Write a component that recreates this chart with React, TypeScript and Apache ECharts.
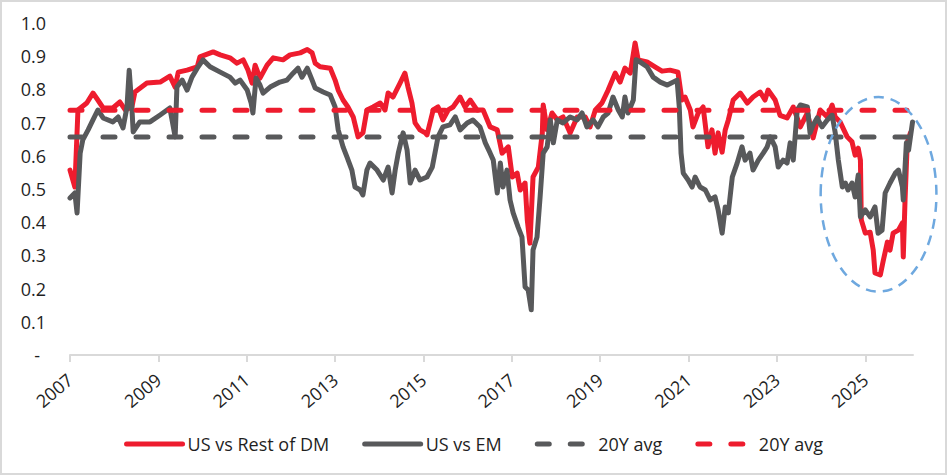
import { useEffect, useRef } from "react";
import * as echarts from "echarts";

// decimal years and correlation values
const dmYears = [
  2007.0, 2007.11, 2007.18, 2007.38, 2007.52, 2007.63, 2007.75, 2007.97, 2008.13, 2008.25,
  2008.4, 2008.47, 2008.74, 2009.04, 2009.26, 2009.38, 2009.45, 2009.65, 2009.88, 2009.94,
  2010.24, 2010.4, 2010.62, 2010.78, 2010.92, 2011.03, 2011.12, 2011.19, 2011.3, 2011.46,
  2011.6, 2011.82, 2011.98, 2012.21, 2012.37, 2012.48, 2012.55, 2012.66, 2012.89, 2013.0,
  2013.07, 2013.18, 2013.29, 2013.41, 2013.52, 2013.63, 2013.72, 2013.86, 2014.02, 2014.13,
  2014.2, 2014.31, 2014.47, 2014.58, 2014.65, 2014.74, 2014.81, 2014.92, 2015.04, 2015.08,
  2015.22, 2015.33, 2015.44, 2015.56, 2015.67, 2015.83, 2015.94, 2016.06, 2016.21, 2016.35,
  2016.51, 2016.67, 2016.78, 2016.92, 2017.01, 2017.12, 2017.19, 2017.3, 2017.35, 2017.41,
  2017.48, 2017.6, 2017.69, 2017.71, 2017.8, 2017.91, 2018.03, 2018.16, 2018.32, 2018.48,
  2018.66, 2018.77, 2018.89, 2019.04, 2019.18, 2019.34, 2019.45, 2019.56, 2019.68, 2019.79,
  2019.86, 2020.06, 2020.24, 2020.4, 2020.58, 2020.76, 2020.85, 2020.92, 2021.04, 2021.1,
  2021.22, 2021.33, 2021.44, 2021.53, 2021.6, 2021.67, 2021.76, 2021.83, 2021.9, 2022.01,
  2022.17, 2022.33, 2022.46, 2022.62, 2022.73, 2022.8, 2022.96, 2023.07, 2023.23, 2023.37,
  2023.53, 2023.69, 2023.82, 2023.98, 2024.14, 2024.25, 2024.32, 2024.43, 2024.59, 2024.7,
  2024.77, 2024.84, 2024.89, 2024.91, 2025.0, 2025.11, 2025.18, 2025.22, 2025.34, 2025.41,
  2025.5, 2025.56, 2025.63, 2025.75, 2025.84, 2025.86, 2025.9, 2025.95, 2026.02,
];
const dmValues = [
  0.557, 0.506, 0.738, 0.759, 0.789, 0.768, 0.744, 0.744, 0.762, 0.738,
  0.747, 0.792, 0.819, 0.822, 0.84, 0.807, 0.852, 0.858, 0.868, 0.898,
  0.913, 0.904, 0.895, 0.879, 0.889, 0.858, 0.819, 0.873, 0.834, 0.873,
  0.895, 0.889, 0.904, 0.91, 0.92, 0.91, 0.879, 0.868, 0.864, 0.828,
  0.798, 0.768, 0.747, 0.717, 0.657, 0.669, 0.738, 0.747, 0.759, 0.738,
  0.789, 0.777, 0.819, 0.849, 0.807, 0.759, 0.699, 0.678, 0.669, 0.663,
  0.738, 0.747, 0.708, 0.738, 0.747, 0.777, 0.747, 0.768, 0.738, 0.738,
  0.687, 0.678, 0.608, 0.627, 0.536, 0.548, 0.497, 0.518, 0.407, 0.337,
  0.536, 0.566, 0.669, 0.753, 0.678, 0.729, 0.708, 0.717, 0.669, 0.717,
  0.717, 0.687, 0.738, 0.759, 0.798, 0.849, 0.822, 0.864, 0.849, 0.94,
  0.889, 0.883, 0.868, 0.855, 0.858, 0.852, 0.768, 0.777, 0.738, 0.687,
  0.729, 0.747, 0.627, 0.678, 0.608, 0.669, 0.611, 0.678, 0.708, 0.768,
  0.789, 0.759, 0.777, 0.792, 0.768, 0.798, 0.768, 0.722, 0.714, 0.747,
  0.687, 0.729, 0.654, 0.738, 0.717, 0.753, 0.717, 0.702, 0.657, 0.642,
  0.602, 0.623, 0.587, 0.407, 0.367, 0.37, 0.316, 0.247, 0.241, 0.286,
  0.34, 0.316, 0.367, 0.376, 0.398, 0.295, 0.467, 0.639, 0.669,
];

const emYears = [
  2007.0, 2007.11, 2007.16, 2007.23, 2007.29, 2007.41, 2007.52, 2007.63, 2007.75, 2007.97,
  2008.09, 2008.2, 2008.29, 2008.34, 2008.4, 2008.43, 2008.58, 2008.81, 2009.04, 2009.26,
  2009.38, 2009.42, 2009.54, 2009.65, 2009.76, 2009.88, 2010.01, 2010.17, 2010.4, 2010.62,
  2010.74, 2010.85, 2011.01, 2011.1, 2011.14, 2011.21, 2011.3, 2011.37, 2011.53, 2011.75,
  2011.91, 2012.05, 2012.16, 2012.25, 2012.37, 2012.48, 2012.55, 2012.73, 2012.89, 2013.0,
  2013.07, 2013.18, 2013.27, 2013.38, 2013.45, 2013.57, 2013.63, 2013.72, 2013.79, 2013.95,
  2014.09, 2014.2, 2014.29, 2014.36, 2014.43, 2014.54, 2014.63, 2014.7, 2014.81, 2014.92,
  2015.08, 2015.2, 2015.26, 2015.33, 2015.44, 2015.6, 2015.72, 2015.83, 2015.99, 2016.12,
  2016.28, 2016.4, 2016.51, 2016.58, 2016.67, 2016.74, 2016.8, 2016.89, 2016.96, 2017.03,
  2017.14, 2017.23, 2017.3, 2017.37, 2017.44, 2017.48, 2017.57, 2017.64, 2017.71, 2017.8,
  2017.87, 2017.94, 2018.03, 2018.16, 2018.32, 2018.48, 2018.59, 2018.7, 2018.84, 2018.95,
  2019.07, 2019.18, 2019.29, 2019.41, 2019.5, 2019.56, 2019.63, 2019.75, 2019.81, 2019.9,
  2020.06, 2020.2, 2020.36, 2020.52, 2020.74, 2020.79, 2020.83, 2020.88, 2020.99, 2021.08,
  2021.15, 2021.26, 2021.38, 2021.49, 2021.6, 2021.67, 2021.76, 2021.83, 2021.9, 2021.99,
  2022.1, 2022.21, 2022.28, 2022.39, 2022.46, 2022.58, 2022.69, 2022.78, 2022.85, 2022.96,
  2023.03, 2023.14, 2023.23, 2023.3, 2023.37, 2023.46, 2023.53, 2023.69, 2023.75, 2023.82,
  2023.91, 2024.02, 2024.14, 2024.25, 2024.32, 2024.39, 2024.48, 2024.55, 2024.61, 2024.7,
  2024.77, 2024.84, 2024.89, 2025.0, 2025.11, 2025.22, 2025.29, 2025.38, 2025.45, 2025.56,
  2025.68, 2025.75, 2025.84, 2025.86, 2025.93, 2025.98, 2026.07,
];
const emValues = [
  0.473, 0.488, 0.428, 0.608, 0.648, 0.678, 0.708, 0.738, 0.714, 0.702,
  0.717, 0.684, 0.747, 0.858, 0.747, 0.672, 0.702, 0.702, 0.723, 0.744,
  0.657, 0.807, 0.828, 0.798, 0.837, 0.864, 0.889, 0.868, 0.852, 0.837,
  0.819, 0.828, 0.798, 0.759, 0.729, 0.834, 0.813, 0.789, 0.807, 0.822,
  0.828, 0.849, 0.864, 0.837, 0.864, 0.828, 0.804, 0.792, 0.783, 0.747,
  0.678, 0.627, 0.596, 0.557, 0.506, 0.497, 0.482, 0.557, 0.578, 0.557,
  0.527, 0.566, 0.488, 0.557, 0.608, 0.669, 0.617, 0.518, 0.557, 0.527,
  0.536, 0.566, 0.608, 0.657, 0.687, 0.693, 0.717, 0.678, 0.699, 0.708,
  0.687, 0.639, 0.608, 0.587, 0.488, 0.578, 0.506, 0.557, 0.467, 0.428,
  0.386, 0.355, 0.205, 0.196, 0.136, 0.316, 0.355, 0.476, 0.608, 0.627,
  0.708, 0.639, 0.708, 0.699, 0.717, 0.708, 0.729, 0.687, 0.708, 0.687,
  0.717, 0.729, 0.777, 0.738, 0.717, 0.777, 0.729, 0.768, 0.889, 0.883,
  0.868, 0.837, 0.822, 0.813, 0.828, 0.747, 0.608, 0.548, 0.527, 0.506,
  0.536, 0.506, 0.497, 0.467, 0.476, 0.437, 0.367, 0.446, 0.428, 0.536,
  0.578, 0.627, 0.587, 0.608, 0.557, 0.587, 0.608, 0.627, 0.657, 0.627,
  0.566, 0.587, 0.578, 0.639, 0.587, 0.738, 0.753, 0.747, 0.669, 0.693,
  0.714, 0.687, 0.708, 0.723, 0.669, 0.587, 0.506, 0.518, 0.497, 0.518,
  0.476, 0.542, 0.416, 0.437, 0.416, 0.446, 0.367, 0.376, 0.488, 0.518,
  0.548, 0.557, 0.506, 0.467, 0.639, 0.617, 0.702,
];

const dmAvg = 0.737;
const emAvg = 0.657;
const avgSpan = [2007.0, 2026.0];
const yearTicks = [2007, 2009, 2011, 2013, 2015, 2017, 2019, 2021, 2023, 2025];

// highlighted region (centre and half-extent in data units)
const circleCentre = [2025.3, 0.484];
const circleHalf = [1.31, 0.293];

const RED = "#ee1c2e";
const GREY = "#58595b";
const FONT = "Open Sans";
const LW = 5;

export default function App() {
  const chartRef = useRef<HTMLDivElement>(null);

  useEffect(() => {
    if (!chartRef.current) return;
    const chart = echarts.init(chartRef.current, null, { renderer: "svg" });

    const lineBase = {
      type: "line",
      symbol: "none",
      showSymbol: false,
    };

    chart.setOption({
      animation: false,
      textStyle: { fontFamily: FONT },
      grid: { left: 70, right: 34, top: 23, bottom: 120 },
      legend: {
        left: "center",
        top: 430,
        itemWidth: 56,
        itemHeight: 14,
        itemGap: 33,
        itemStyle: { opacity: 0 },
        lineStyle: { width: LW, cap: "round" },
        textStyle: { fontFamily: FONT, fontSize: 18, color: "#1f1f1f" },
        data: ["US vs Rest of DM", "US vs EM", "20Y avg EM", "20Y avg DM"],
        formatter: (name: string) => (name.startsWith("20Y avg") ? "20Y avg" : name),
      },
      xAxis: {
        type: "value",
        min: 2007,
        max: 2026.08,
        splitLine: { show: false },
        axisLine: { lineStyle: { color: "#d9d9d9", width: 2 } },
        axisTick: {
          length: 7,
          customValues: yearTicks,
          lineStyle: { color: "#d9d9d9", width: 2 },
        },
        axisLabel: {
          customValues: yearTicks,
          rotate: 40,
          margin: 22,
          fontFamily: FONT,
          fontSize: 18,
          color: "#1f1f1f",
          formatter: (v: number) => String(Math.round(v)),
        },
      },
      yAxis: {
        type: "value",
        min: 0,
        max: 1,
        interval: 0.1,
        splitLine: { show: false },
        axisLine: { show: false },
        axisTick: { show: false },
        axisLabel: {
          margin: 24,
          fontFamily: FONT,
          fontSize: 18,
          color: "#1f1f1f",
          formatter: (v: number) => (Math.abs(v) < 1e-9 ? "{dash|-}" : v.toFixed(1)),
          rich: { dash: { fontFamily: FONT, fontSize: 18, color: "#1f1f1f", padding: [0, 6, 0, 0] } },
        },
      },
      series: [
        {
          ...lineBase,
          name: "US vs Rest of DM",
          data: dmYears.map((x, i) => [x, dmValues[i]]),
          lineStyle: { color: RED, width: LW, cap: "round", join: "round" },
          itemStyle: { color: RED },
        },
        {
          ...lineBase,
          name: "US vs EM",
          data: emYears.map((x, i) => [x, emValues[i]]),
          lineStyle: { color: GREY, width: LW, cap: "round", join: "round" },
          itemStyle: { color: GREY },
        },
        {
          ...lineBase,
          name: "20Y avg EM",
          data: avgSpan.map((x) => [x, emAvg]),
          lineStyle: { color: GREY, width: LW, type: [12, 21], cap: "round" },
          itemStyle: { color: GREY },
        },
        {
          ...lineBase,
          name: "20Y avg DM",
          data: avgSpan.map((x) => [x, dmAvg]),
          lineStyle: { color: RED, width: LW, type: [12, 21], cap: "round" },
          itemStyle: { color: RED },
        },
      ],
    });

    const c = chart.convertToPixel({ gridIndex: 0 }, circleCentre) as number[];
    const e = chart.convertToPixel({ gridIndex: 0 }, [
      circleCentre[0] + circleHalf[0],
      circleCentre[1] + circleHalf[1],
    ]) as number[];

    chart.setOption({
      graphic: [
        {
          type: "rect",
          shape: { x: 1, y: 1, width: 945, height: 473 },
          style: { fill: "none", stroke: "#d9d9d9", lineWidth: 2 },
          silent: true,
        },
        {
          type: "ellipse",
          shape: { cx: c[0], cy: c[1], rx: e[0] - c[0], ry: c[1] - e[1] },
          style: { fill: "none", stroke: "#6ea8df", lineWidth: 2.5, lineDash: [10, 7] },
          silent: true,
          z: 10,
        },
      ],
    });

    return () => chart.dispose();
  }, []);

  return (
    <div
      ref={chartRef}
      style={{ position: "absolute", left: 0, top: 0, width: 947, height: 475, background: "#fff" }}
    />
  );
}
